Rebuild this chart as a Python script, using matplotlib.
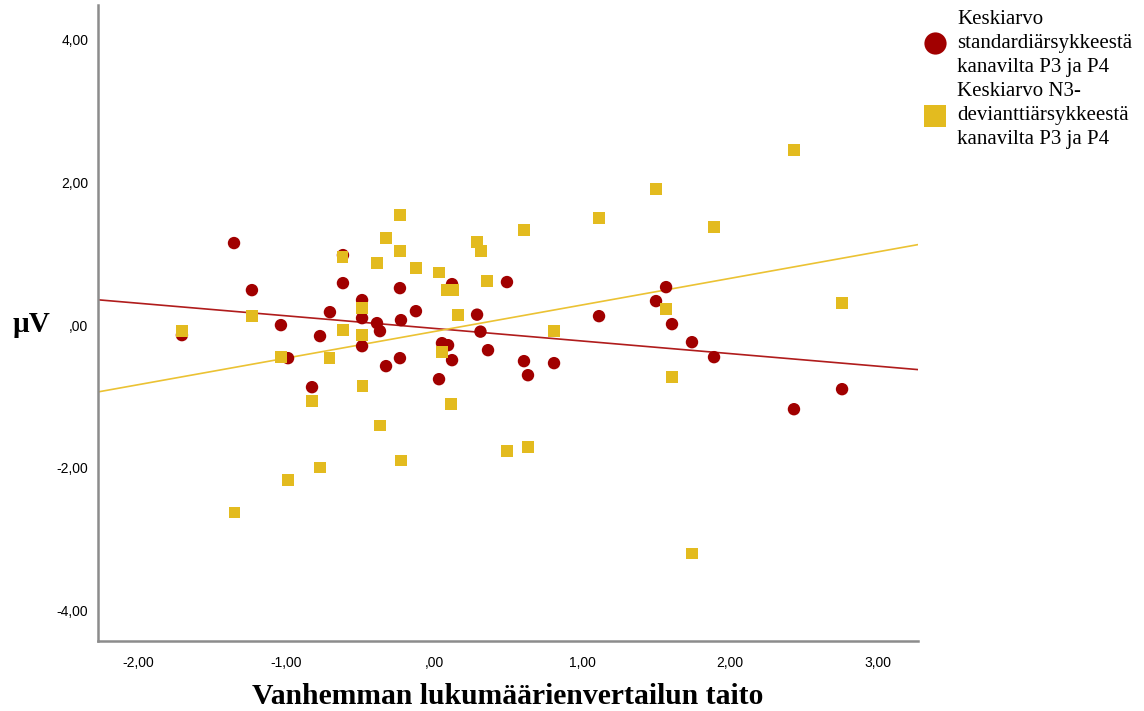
import matplotlib
matplotlib.use('Agg')

import matplotlib.pyplot as plt
import numpy as np

from matplotlib.lines import Line2D

# standard stimulus means (P3/P4)
std_x = [-1.703, -1.351, -1.230, -1.034, -0.986, -0.824, -0.770, -0.703, -0.615, -0.615,
         -0.486, -0.486, -0.486, -0.385, -0.365, -0.324, -0.230, -0.223, -0.230, -0.122,
         0.034, 0.054, 0.095, 0.122, 0.122, 0.291, 0.314, 0.365, 0.493, 0.608,
         0.635, 0.811, 1.115, 1.500, 1.568, 1.608, 1.743, 1.892, 2.432, 2.757]
std_y = [-0.140, 1.151, 0.491, 0.000, -0.463, -0.870, -0.154, 0.182, 0.982, 0.589,
         0.351, 0.098, -0.295, 0.028, -0.084, -0.575, 0.519, 0.070, -0.463, 0.196,
         -0.758, -0.253, -0.281, -0.491, 0.575, 0.147, -0.091, -0.351, 0.604, -0.505,
         -0.702, -0.533, 0.126, 0.337, 0.533, 0.014, -0.239, -0.449, -1.179, -0.898]

# N3 deviant stimulus means (P3/P4)
dev_x = [-1.703, -1.348, -1.230, -1.034, -0.986, -0.824, -0.770, -0.706, -0.618, -0.615,
         -0.486, -0.486, -0.483, -0.385, -0.365, -0.324, -0.230, -0.230, -0.223, -0.122,
         0.034, 0.054, 0.088, 0.115, 0.128, 0.162, 0.291, 0.318, 0.358, 0.493,
         0.608, 0.635, 0.811, 1.115, 1.500, 1.568, 1.608, 1.743, 1.892, 2.432, 2.757]
dev_y = [-0.084, -2.625, 0.126, -0.449, -2.175, -1.067, -2.000, -0.463, 0.954, -0.070,
         0.239, -0.140, -0.856, 0.870, -1.404, 1.221, 1.544, 1.039, -1.895, 0.800,
         0.737, -0.379, 0.491, -1.109, 0.491, 0.140, 1.165, 1.039, 0.618, -1.768,
         1.333, -1.712, -0.084, 1.502, 1.909, 0.225, -0.730, -3.200, 1.375, 2.456, 0.309]

x_ticks = [-2, -1, 0, 1, 2, 3]
y_ticks = [-4, -2, 0, 2, 4]

labels = ['Keskiarvo\nstandardiärsykkeestä\nkanavilta P3 ja P4',
          'Keskiarvo N3-\ndevianttiärsykkeestä\nkanavilta P3 ja P4']

red = '#a10000'
yellow = '#e3bb1f'


def spss_fmt(v):
    s = '%.2f' % v
    s = s.replace('.', ',')
    if s.startswith('0,'):
        s = s[1:]
    return s


fig = plt.figure(figsize=(11.44, 7.11), dpi=100)
ax = fig.add_axes([98 / 1144, 1 - 641 / 711, 820 / 1144, 636 / 711])

x_min, x_max = -2.27, 3.27
ax.set_xlim(x_min, x_max)
ax.set_ylim(-4.43, 4.49)

ax.scatter(std_x, std_y, s=80, marker='o', color=red, edgecolors='none', zorder=3)
ax.scatter(dev_x, dev_y, s=68, marker='s', color=yellow, edgecolors='none', zorder=3)

# linear fit lines across the whole axis
xs = np.array([x_min, x_max])
k1, b1 = np.polyfit(std_x, std_y, 1)
k2, b2 = np.polyfit(dev_x, dev_y, 1)
ax.plot(xs, k1 * xs + b1, color='#b01c1c', lw=1.2, zorder=2)
ax.plot(xs, k2 * xs + b2, color='#ebc233', lw=1.2, zorder=2)

ax.set_xticks(x_ticks)
ax.set_yticks(y_ticks)
ax.set_xticklabels([spss_fmt(v) for v in x_ticks], family='Liberation Sans', fontsize=10)
ax.set_yticklabels([spss_fmt(v) for v in y_ticks], family='Liberation Sans', fontsize=10)
ax.tick_params(axis='x', length=0, pad=11)
ax.tick_params(axis='y', length=0, pad=7)

for side in ['top', 'right']:
    ax.spines[side].set_visible(False)
for side in ['left', 'bottom']:
    ax.spines[side].set_color('#8c8c8c')
    ax.spines[side].set_linewidth(1.8)

ax.set_xlabel('Vanhemman lukumäärienvertailun taito', family='Liberation Serif',
              fontsize=21.3, fontweight='bold', labelpad=9)
fig.text(13 / 1144, 1 - 324 / 711, 'µV', family='Liberation Serif', fontsize=21,
         fontweight='bold', va='center', ha='left')

handles = [Line2D([], [], marker='o', ls='', color=red, markersize=16, markeredgewidth=0),
           Line2D([], [], marker='s', ls='', color=yellow, markersize=15.5, markeredgewidth=0)]
leg = fig.legend(handles, labels, loc='upper left', bbox_to_anchor=(924 / 1144, 1 - 10 / 711),
                 frameon=False, prop={'family': 'Liberation Serif', 'size': 15},
                 handletextpad=0.55, labelspacing=0.25, handlelength=1.05,
                 borderaxespad=0, borderpad=0)
for t in leg.get_texts():
    t.set_linespacing(1.36)

plt.savefig('out.png', dpi=100)
